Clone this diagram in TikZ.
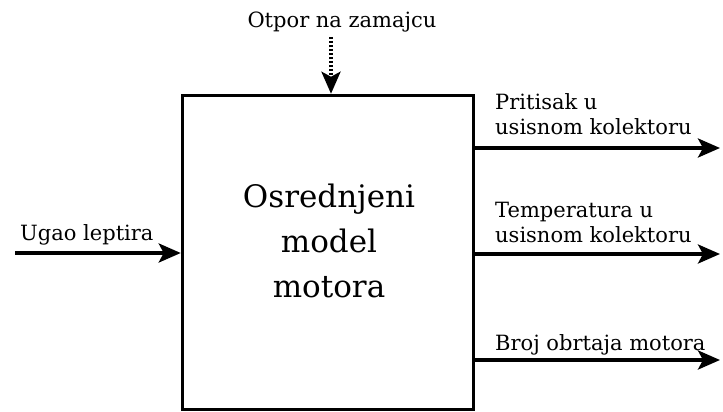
\documentclass[tikz,border=0pt]{standalone}
\usepackage{fontspec}
\setmainfont{DejaVu Serif}
\usetikzlibrary{arrows.meta,positioning}

\tikzset{
  sig/.style={line width=3.5pt,-{Stealth[length=22pt,width=19pt,inset=5pt]}},
  lbl/.style={inner sep=0pt,font=\fontsize{21}{25}\selectfont,align=left},
  blocktext/.style={inner sep=0pt,font=\fontsize{31}{45}\selectfont,align=center},
}

\begin{document}
\begin{tikzpicture}[x=1pt,y=-1pt]
  \useasboundingbox (0,0) rectangle (723,412);
  % the engine block
  \node[draw,line width=3.5pt,minimum width=291pt,minimum height=314pt,inner sep=0pt] (model) at (328,252.5) {};
  \node[blocktext] (title) at (329,241) {Osrednjeni\\model\\motora};
  % input and disturbance
  \coordinate (in) at (15,253);
  \coordinate (load) at (331,37);
  \draw[sig] (in) -- (in -| model.west);
  \draw[sig,dash pattern=on 2.5pt off 1.5pt] (load) -- (load |- model.north);
  % outputs
  \coordinate (out1) at (720,148);
  \coordinate (out2) at (720,254);
  \coordinate (out3) at (720,360);
  \draw[sig] (out1 -| model.east) -- (out1);
  \draw[sig] (out2 -| model.east) -- (out2);
  \draw[sig] (out3 -| model.east) -- (out3);
  % labels
  \node[lbl,anchor=base west] (angle) at (20,240) {Ugao leptira};
  \node[lbl,anchor=base] (torque) at (342,28) {Otpor na zamajcu};
  \node[lbl,anchor=south west] (pressure) at (495,135) {Pritisak u\\usisnom kolektoru};
  \node[lbl,anchor=south west] (temp) at (495,243) {Temperatura u\\usisnom kolektoru};
  \node[lbl,anchor=base west] (speed) at (495,350) {Broj obrtaja motora};
\end{tikzpicture}
\end{document}
